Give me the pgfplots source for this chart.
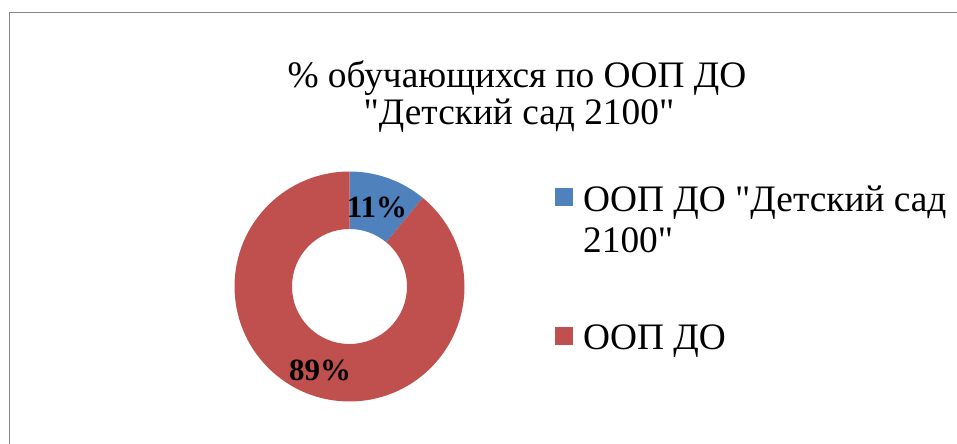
\documentclass[border=0pt]{standalone}
\usepackage{pgfplots}
\pgfplotsset{compat=1.18}
\usepackage{pgfplotstable}
\usepackage{fontspec}
\setmainfont{Liberation Serif}
\newfontfamily\ser{Liberation Serif}
\definecolor{sblue}{HTML}{4F81BD}
\definecolor{sred}{HTML}{C0504D}
\definecolor{framegray}{HTML}{868686}
\pgfplotstableread{
share
11
89
}\donutdata
\begin{document}
\begin{tikzpicture}
\pgfplotstablegetelem{0}{share}\of\donutdata \edef\va{\pgfplotsretval}
\pgfplotstablegetelem{1}{share}\of\donutdata \edef\vb{\pgfplotsretval}
\pgfmathsetmacro\aA{90}
\pgfmathsetmacro\aB{90-3.6*\va}
\pgfmathsetmacro\aC{\aB-3.6*\vb}
\begin{axis}[scale only axis, width=957bp, height=444bp,
  xmin=0, xmax=957, ymin=0, ymax=444, hide axis, clip=false]
% donut slices
\fill[sblue] (axis cs:349.5,157.5) ++(\aA:115bp) arc[start angle=\aA, end angle=\aB, radius=115bp]
  -- ++(\aB+180:57.5bp) arc[start angle=\aB, end angle=\aA, radius=57.5bp] -- cycle;
\fill[sred] (axis cs:349.5,157.5) ++(\aB:115bp) arc[start angle=\aB, end angle=\aC, radius=115bp]
  -- ++(\aC+180:57.5bp) arc[start angle=\aC, end angle=\aB, radius=57.5bp] -- cycle;
% data labels
\node[font=\ser\bfseries\fontsize{31}{36}\selectfont] at (axis cs:377,237) {\va\%};
\node[font=\ser\bfseries\fontsize{31}{36}\selectfont] at (axis cs:320,74) {\vb\%};
% title
\node[anchor=base, font=\ser\fontsize{37.5}{42}\selectfont] at (axis cs:517,356) {\% обучающихся по ООП ДО};
\node[anchor=base, font=\ser\fontsize{37.5}{42}\selectfont] at (axis cs:519,319) {"Детский сад 2100"};
% legend
\fill[sblue] (axis cs:555,238) rectangle (axis cs:573,256);
\fill[sred] (axis cs:555,99) rectangle (axis cs:573,117);
\node[anchor=base west, inner sep=0pt, font=\ser\fontsize{37.5}{42}\selectfont] at (axis cs:583,232) {ООП ДО "Детский сад};
\node[anchor=base west, inner sep=0pt, font=\ser\fontsize{37.5}{42}\selectfont] at (axis cs:583,191) {2100"};
\node[anchor=base west, inner sep=0pt, font=\ser\fontsize{37.5}{42}\selectfont] at (axis cs:583,94) {ООП ДО};
% chart frame
\draw[framegray, line width=1.5bp] (axis cs:9.5,-10) -- (axis cs:9.5,431.5) -- (axis cs:970,431.5);
\end{axis}
\pgfresetboundingbox
\useasboundingbox (0,0) rectangle (957bp,444bp);
\end{tikzpicture}
\end{document}
